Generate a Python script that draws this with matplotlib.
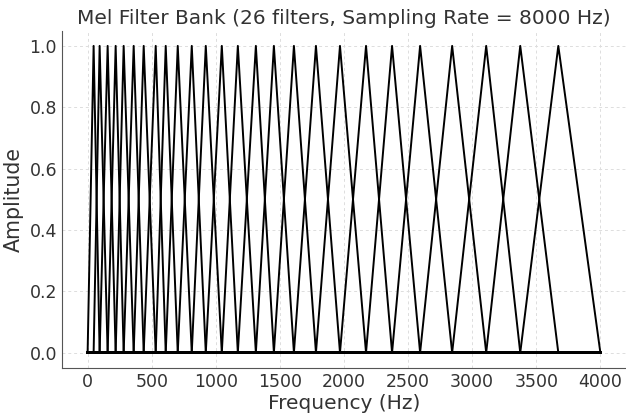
import matplotlib
matplotlib.use("Agg")
import matplotlib.pyplot as plt

# Filter edge frequencies (Hz): 28 points -> 26 triangles
edges_hz = [0.0, 46.875, 93.75, 156.25, 218.75, 281.25, 359.375, 437.5,
            531.25, 609.375, 703.125, 812.5, 921.875, 1046.875, 1171.875,
            1312.5, 1453.125, 1609.375, 1781.25, 1968.75, 2171.875, 2375.0,
            2593.75, 2843.75, 3109.375, 3375.0, 3671.875, 4000.0]
f_min, f_max = 0.0, 4000.0
n_filters = 26
sample_rate = 8000

text_color = "#333333"

fig = plt.figure(figsize=(6.26, 4.13), dpi=100)
ax = fig.add_axes([0.099, 0.109, 0.901, 0.817])

for m in range(1, n_filters + 1):
    lo, mid, hi = edges_hz[m - 1], edges_hz[m], edges_hz[m + 1]
    ax.plot([f_min, lo, mid, hi, f_max], [0, 0, 1, 0, 0],
            color="black", linewidth=1.4)

ax.set_title(f"Mel Filter Bank ({n_filters} filters, Sampling Rate = {sample_rate} Hz)",
             fontsize=14.5, color=text_color, pad=5)
ax.set_xlabel("Frequency (Hz)", fontsize=14.5, color=text_color, labelpad=2)
ax.set_ylabel("Amplitude", fontsize=14.8, color=text_color, labelpad=4)

ax.set_xticks([0, 500, 1000, 1500, 2000, 2500, 3000, 3500, 4000])
ax.set_yticks([0.0, 0.2, 0.4, 0.6, 0.8, 1.0])
ax.tick_params(length=0, labelsize=12.5, labelcolor=text_color, pad=3.5)
ax.grid(True, linestyle=(0, (3, 3)), color="#dddddd", linewidth=0.7)
ax.set_axisbelow(True)

for side in ["top", "right"]:
    ax.spines[side].set_visible(False)
for side in ["left", "bottom"]:
    ax.spines[side].set_color("#555555")
    ax.spines[side].set_linewidth(0.8)

fig.savefig("out.png", dpi=100)
